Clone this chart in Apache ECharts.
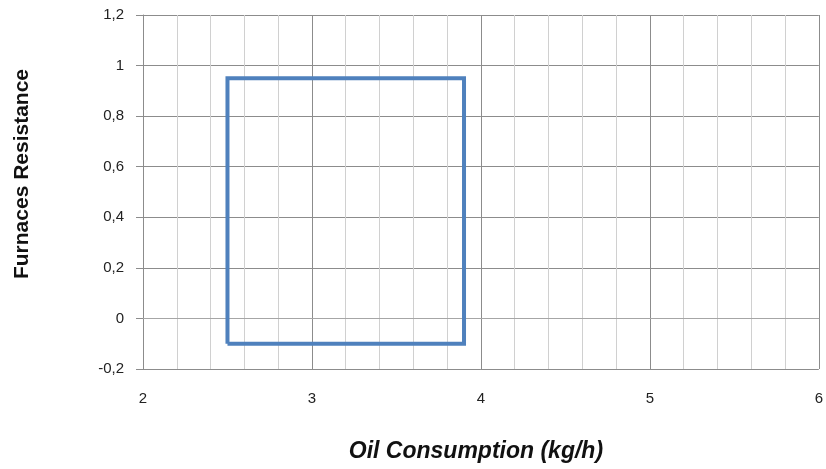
<!DOCTYPE html>
<html><head><meta charset="utf-8">
<script src="https://cdn.jsdelivr.net/npm/echarts@6/dist/echarts.min.js"></script>
<style>html,body{margin:0;padding:0;background:#fff}#c{width:826px;height:469px}</style>
</head><body><div id="c"></div>
<script>
var xTitle = 'Oil Consumption (kg/h)';
var yTitle = 'Furnaces Resistance';
var boxX = [2.5, 2.5, 3.9, 3.9, 2.5];
var boxY = [-0.1, 0.95, 0.95, -0.1, -0.1];
var xMin = 2, xMax = 6, xStep = 1;
var yMin = -0.2, yMax = 1.2, yStep = 0.2;

var pts = boxX.map(function(x, i){ return [x, boxY[i]]; });
var fmt = function(v){ var r = Math.round(v*10)/10; return String(r).replace('.', ','); };
var font = 'Liberation Sans, Arial, sans-serif';
var chart = echarts.init(document.getElementById('c'), null, {renderer:'canvas'});
chart.setOption({
  animation: false,
  grid: {left:143, right:6, top:15, bottom:100, containLabel:false},
  xAxis: {
    type:'value', min:xMin, max:xMax, interval:xStep,
    axisLine:{show:true, lineStyle:{color:'#a6a6a6', width:1}},
    axisTick:{show:false},
    axisLabel:{color:'#222', fontSize:15, fontFamily:font, margin:22},
    splitLine:{show:true, lineStyle:{color:'#8c8c8c', width:1}},
    minorTick:{show:false, splitNumber:5},
    minorSplitLine:{show:true, lineStyle:{color:'#d0d0d0', width:1}},
    name:xTitle, nameLocation:'middle', nameGap:71,
    nameTextStyle:{fontSize:23, fontWeight:'bold', fontStyle:'italic', color:'#111', fontFamily:font, padding:[0,10,0,0]}
  },
  yAxis: {
    type:'value', min:yMin, max:yMax, interval:yStep,
    axisLine:{show:true, lineStyle:{color:'#8c8c8c', width:1}},
    axisTick:{show:true, length:7, lineStyle:{color:'#8c8c8c'}},
    axisLabel:{color:'#222', fontSize:15, fontFamily:font, margin:19, formatter:fmt},
    splitLine:{show:true, lineStyle:{color:'#8c8c8c', width:1}},
    name:yTitle, nameLocation:'middle', nameGap:110, nameRotate:90,
    nameTextStyle:{fontSize:21, fontWeight:'bold', color:'#111', fontFamily:font, padding:[0,0,0,36]}
  },
  series: [{
    type:'line', data:pts, showSymbol:false, symbol:'none',
    lineStyle:{color:'#4f81bd', width:4, join:'miter'}, itemStyle:{color:'#4f81bd'}
  }]
});
</script></body></html>
